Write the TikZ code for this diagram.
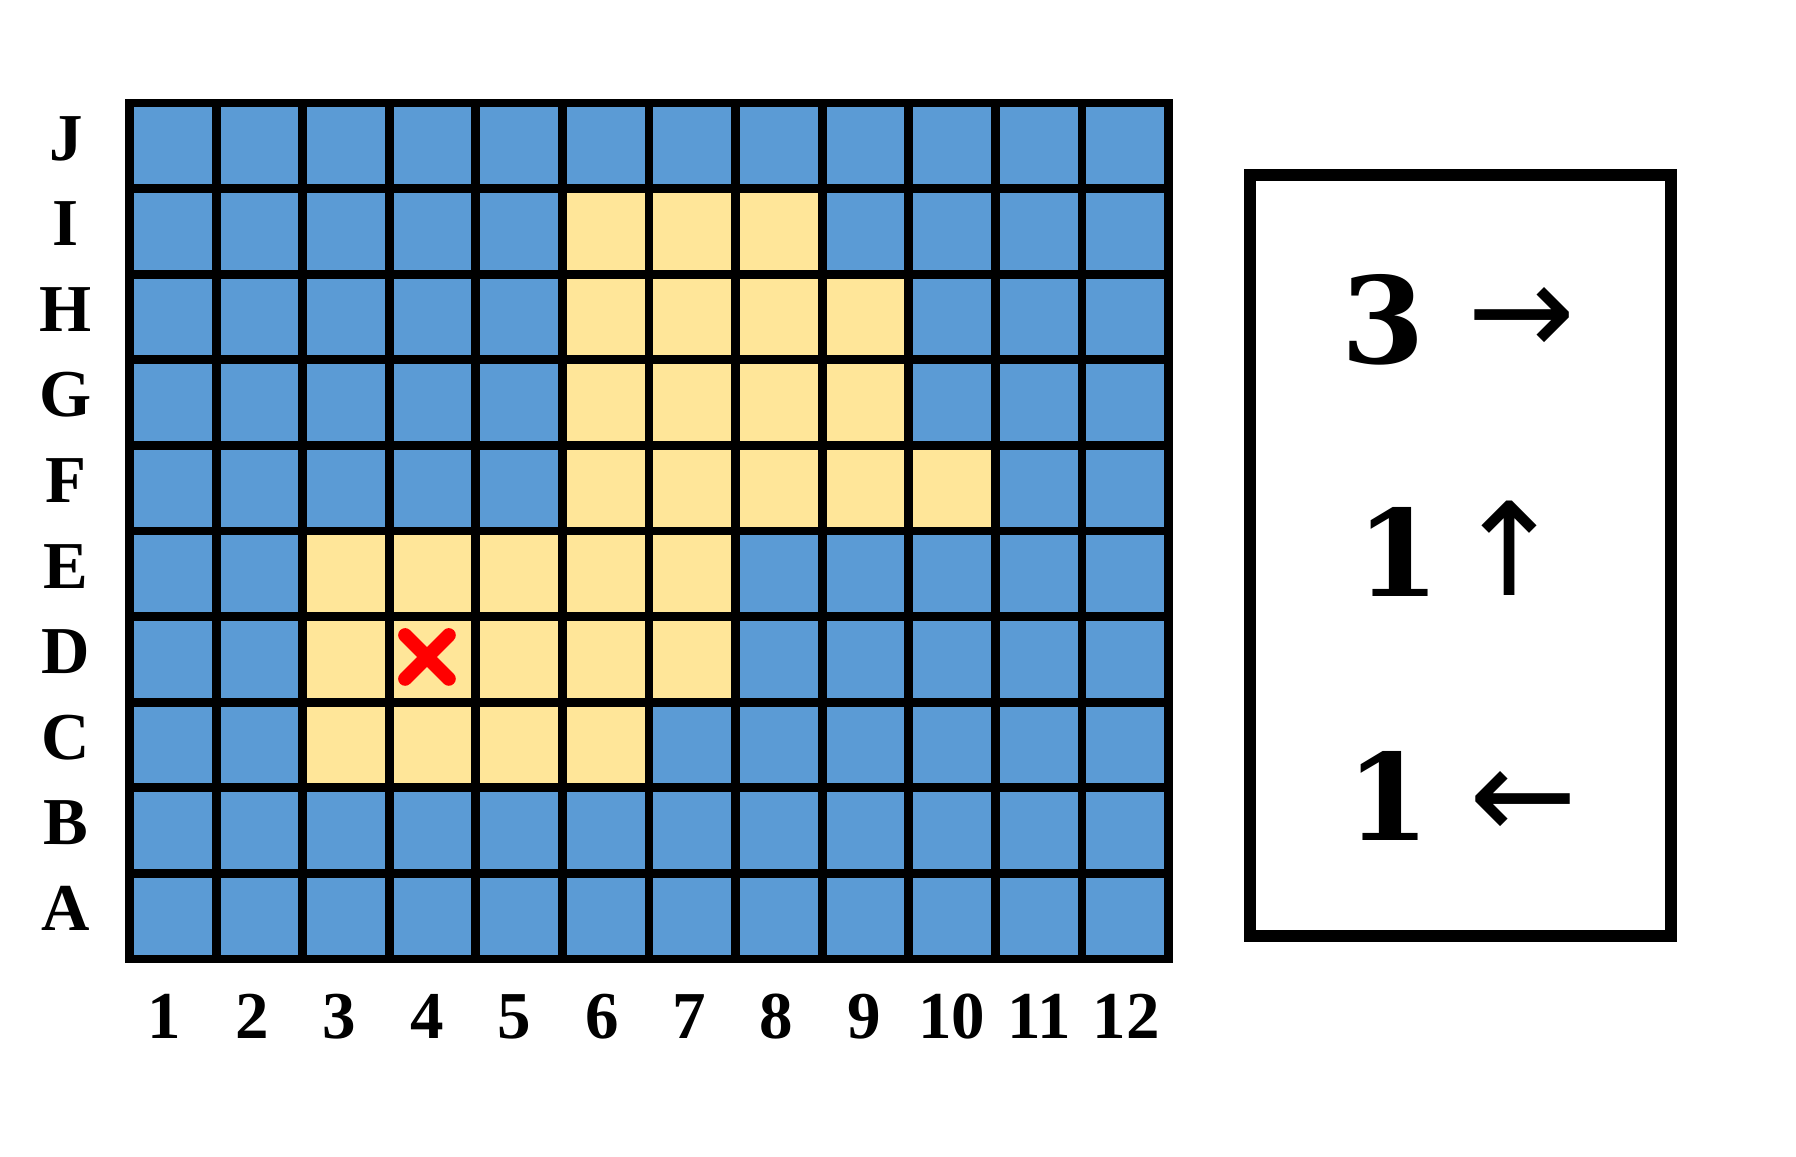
\documentclass[tikz,border=0pt]{standalone}
\usepackage{fontspec}
\setmainfont{Liberation Serif}
\newfontfamily\boxfont{DejaVu Serif}
\newfontfamily\arrowfont{DejaVu Sans}
\definecolor{gridblue}{HTML}{5B9BD5}
\definecolor{gridyellow}{HTML}{FFE699}
\begin{document}
\begin{tikzpicture}[x=43.3pt,y=42.8pt,
  cell/.style={rectangle, fill=gridyellow, draw=none, inner sep=0pt, minimum width=43.3pt, minimum height=42.8pt},
  axislabel/.style={anchor=base, inner sep=0pt, font=\fontsize{33.5}{40}\selectfont\bfseries},
  movecount/.style={anchor=base, inner sep=0pt, font=\fontsize{60}{72}\selectfont\boxfont\bfseries},
  movearrow/.style={anchor=center, inner sep=0pt, font=\fontsize{64.5}{77}\selectfont\arrowfont}]
\useasboundingbox (-0.9954,-1.813) rectangle (19.744,11.703);
% board
\fill [gridblue] (0.5,0.5) rectangle (12.5,10.5);
\node [cell] (I6) at (6,9) {};
\node [cell] (I7) at (7,9) {};
\node [cell] (I8) at (8,9) {};
\node [cell] (H6) at (6,8) {};
\node [cell] (H7) at (7,8) {};
\node [cell] (H8) at (8,8) {};
\node [cell] (H9) at (9,8) {};
\node [cell] (G6) at (6,7) {};
\node [cell] (G7) at (7,7) {};
\node [cell] (G8) at (8,7) {};
\node [cell] (G9) at (9,7) {};
\node [cell] (F6) at (6,6) {};
\node [cell] (F7) at (7,6) {};
\node [cell] (F8) at (8,6) {};
\node [cell] (F9) at (9,6) {};
\node [cell] (F10) at (10,6) {};
\node [cell] (E3) at (3,5) {};
\node [cell] (E4) at (4,5) {};
\node [cell] (E5) at (5,5) {};
\node [cell] (E6) at (6,5) {};
\node [cell] (E7) at (7,5) {};
\node [cell] (D3) at (3,4) {};
\node [cell] (D4) at (4,4) {};
\node [cell] (D5) at (5,4) {};
\node [cell] (D6) at (6,4) {};
\node [cell] (D7) at (7,4) {};
\node [cell] (C3) at (3,3) {};
\node [cell] (C4) at (4,3) {};
\node [cell] (C5) at (5,3) {};
\node [cell] (C6) at (6,3) {};
\begin{scope}[shift={(0.5,0.5)}]
\draw [line width=4.4pt, step=1] (0,0) grid (12,10);
\draw [line width=4.4pt] (0,0) rectangle (12,10);
\end{scope}
% start mark
\draw [red, line width=7pt, line cap=round] (3.683,4.283) -- (4.187,3.773);
\draw [red, line width=7pt, line cap=round] (3.683,3.773) -- (4.187,4.283);
% rows
\node [axislabel] (rowJ) at (-0.233,9.833) {J};
\node [axislabel] (rowI) at (-0.233,8.833) {I};
\node [axislabel] (rowH) at (-0.233,7.833) {H};
\node [axislabel] (rowG) at (-0.233,6.833) {G};
\node [axislabel] (rowF) at (-0.233,5.833) {F};
\node [axislabel] (rowE) at (-0.233,4.833) {E};
\node [axislabel] (rowD) at (-0.233,3.833) {D};
\node [axislabel] (rowC) at (-0.233,2.833) {C};
\node [axislabel] (rowB) at (-0.233,1.833) {B};
\node [axislabel] (rowA) at (-0.233,0.833) {A};
% columns
\node [axislabel] (col1) at (0.906,-0.426) {1};
\node [axislabel] (col2) at (1.916,-0.426) {2};
\node [axislabel] (col3) at (2.925,-0.426) {3};
\node [axislabel] (col4) at (3.935,-0.426) {4};
\node [axislabel] (col5) at (4.944,-0.426) {5};
\node [axislabel] (col6) at (5.954,-0.426) {6};
\node [axislabel] (col7) at (6.963,-0.426) {7};
\node [axislabel] (col8) at (7.973,-0.426) {8};
\node [axislabel] (col9) at (8.982,-0.426) {9};
\node [axislabel] (col10) at (9.992,-0.426) {10};
\node [axislabel] (col11) at (11.001,-0.426) {11};
\node [axislabel] (col12) at (12.011,-0.426) {12};
% moves
\draw [line width=5.75pt] (13.439,0.769) rectangle (18.300,9.659);
\node [movecount] (right) at (14.980,7.451) {3};
\node [movearrow] (rightarrow) at (16.580,7.942) {→};
\node [movecount] (up) at (15.154,4.729) {1};
\node [movearrow] (uparrow) at (16.435,5.301) {↑};
\node [movecount] (left) at (15.032,1.879) {1};
\node [movearrow] (leftarrow) at (16.597,2.291) {←};
\end{tikzpicture}
\end{document}
